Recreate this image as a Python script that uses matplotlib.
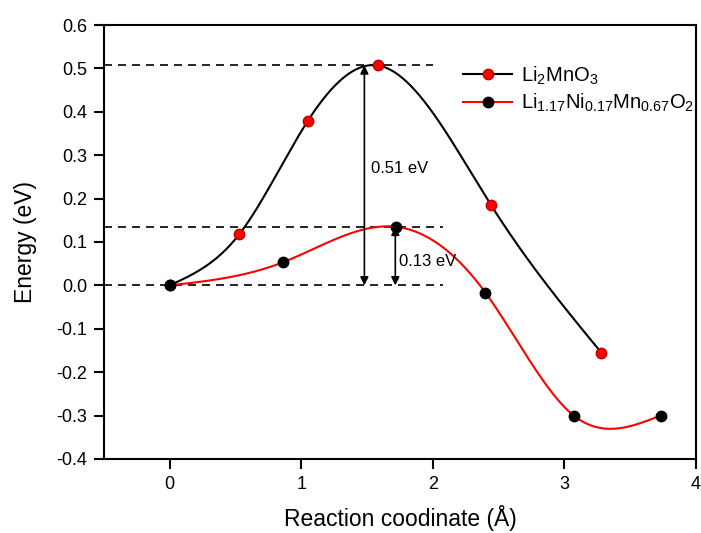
import numpy as np
import matplotlib
matplotlib.use("Agg")
import matplotlib.pyplot as plt

plt.rcParams['font.family'] = ['Liberation Sans', 'DejaVu Sans']
plt.rcParams['mathtext.fontset'] = 'custom'
plt.rcParams['mathtext.rm'] = 'Liberation Sans'
plt.rcParams['mathtext.it'] = 'Liberation Sans'
plt.rcParams['mathtext.default'] = 'regular'

# Data
x_li2mno3 = [0.0, 0.53, 1.05, 1.58, 2.44, 3.28]
e_li2mno3 = [0.0, 0.118, 0.379, 0.507, 0.186, -0.155]
x_lnmo = [0.0, 0.86, 1.72, 2.40, 3.07, 3.73]
e_lnmo = [0.0, 0.053, 0.135, -0.017, -0.300, -0.300]
barrier_levels = [0.507, 0.135, 0.0]
barrier_labels = ['0.51 eV', '0.13 eV']
xticks = [0, 1, 2, 3, 4]
yticks = [-0.4, -0.3, -0.2, -0.1, 0.0, 0.1, 0.2, 0.3, 0.4, 0.5, 0.6]


def natural_spline(x, y, n=400):
    x = np.asarray(x, float); y = np.asarray(y, float)
    k = len(x)
    h = np.diff(x)
    A = np.zeros((k, k)); b = np.zeros(k)
    A[0, 0] = 1; A[-1, -1] = 1
    for i in range(1, k - 1):
        A[i, i - 1] = h[i - 1]
        A[i, i] = 2 * (h[i - 1] + h[i])
        A[i, i + 1] = h[i]
        b[i] = 3 * ((y[i + 1] - y[i]) / h[i] - (y[i] - y[i - 1]) / h[i - 1])
    c = np.linalg.solve(A, b)
    xs = np.linspace(x[0], x[-1], n)
    ys = np.empty_like(xs)
    for j, xv in enumerate(xs):
        i = min(np.searchsorted(x, xv, side='right') - 1, k - 2)
        d = xv - x[i]
        bi = (y[i + 1] - y[i]) / h[i] - h[i] * (2 * c[i] + c[i + 1]) / 3
        di = (c[i + 1] - c[i]) / (3 * h[i])
        ys[j] = y[i] + bi * d + c[i] * d ** 2 + di * d ** 3
    return xs, ys


fig = plt.figure(figsize=(7.01, 5.33), dpi=100)
ax = fig.add_axes([0.148, 0.139, 0.845, 0.814])

dash = (0, (4.8, 3.6))
ax.plot([-0.5, 2.0], [barrier_levels[0]] * 2, color='black', lw=1.2, linestyle=dash, zorder=1)
ax.plot([-0.5, 2.08], [barrier_levels[1]] * 2, color='black', lw=1.2, linestyle=dash, zorder=1)
ax.plot([-0.5, 2.08], [barrier_levels[2]] * 2, color='black', lw=1.2, linestyle=dash, zorder=1)

xs, ys = natural_spline(x_li2mno3, e_li2mno3)
ax.plot(xs, ys, color='black', lw=1.5, zorder=2)
xs2, ys2 = natural_spline(x_lnmo, e_lnmo)
ax.plot(xs2, ys2, color='red', lw=1.5, zorder=2)

ms = 7.5
ax.plot(x_li2mno3, e_li2mno3, 'o', color='red', markeredgecolor='#c00000', markersize=ms, zorder=4)
ax.plot(x_lnmo, e_lnmo, 'o', color='black', markeredgecolor='black', markersize=ms, zorder=4)

# legend handles
h1, = ax.plot([], [], '-o', color='black', markerfacecolor='red', markeredgecolor='#c00000', markersize=ms, lw=1.5)
h2, = ax.plot([], [], '-o', color='red', markerfacecolor='black', markeredgecolor='black', markersize=ms, lw=1.5)
ax.legend([h1, h2], [r'Li$_2$MnO$_3$', r'Li$_{1.17}$Ni$_{0.17}$Mn$_{0.67}$O$_2$'],
          loc='upper left', bbox_to_anchor=(0.59, 0.933), frameon=False, fontsize=14.6,
          handlelength=2.4, handletextpad=0.45, labelspacing=0.25, borderpad=0,
          numpoints=1)

arrowprops = dict(arrowstyle='<|-|>', color='black', lw=1.2, mutation_scale=12, shrinkA=0, shrinkB=0)
ax.annotate('', xy=(1.48, barrier_levels[0]), xytext=(1.48, barrier_levels[2]), arrowprops=arrowprops)
ax.annotate('', xy=(1.715, barrier_levels[1]), xytext=(1.715, barrier_levels[2]), arrowprops=arrowprops)
ax.text(1.53, 0.27, barrier_labels[0], fontsize=12, va='center', ha='left')
ax.text(1.745, 0.056, barrier_labels[1], fontsize=12, va='center', ha='left')

ax.set_xlim(-0.5, 4)
ax.set_ylim(-0.4, 0.6)
ax.set_xticks(xticks)
ax.set_yticks(yticks)
ax.set_yticklabels([f'{v:.1f}' for v in yticks])
ax.tick_params(direction='out', length=7, width=1.5, labelsize=13, pad=5, top=False, right=False)
for s in ax.spines.values():
    s.set_linewidth(1.5)
ax.set_xlabel('Reaction coodinate (Å)', fontsize=16.5, labelpad=9)
ax.set_ylabel('Energy (eV)', fontsize=16.5, labelpad=14)

fig.savefig('out.png', dpi=100)
